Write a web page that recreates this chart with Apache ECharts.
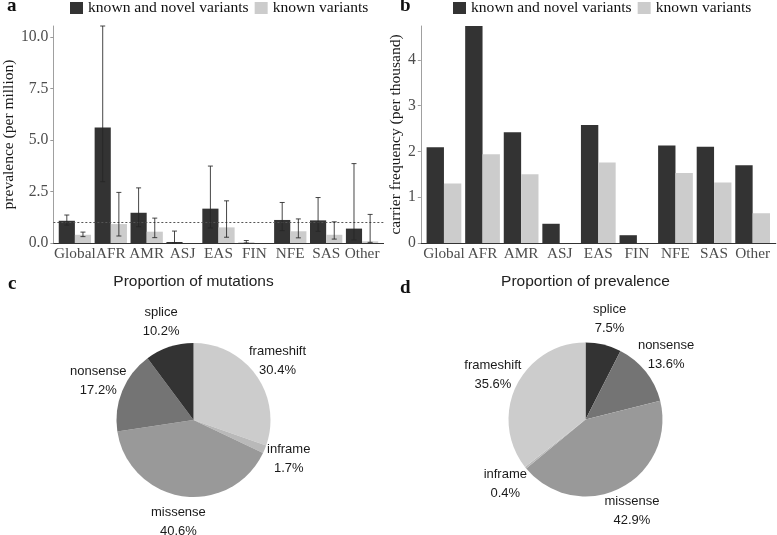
<!DOCTYPE html>
<html><head><meta charset="utf-8">
<script src="https://cdn.jsdelivr.net/npm/echarts@6/dist/echarts.min.js"></script>
<style>html,body{margin:0;padding:0;background:#fff}#c{width:777px;height:535px}</style>
</head><body><div id="c"></div>
<script>
// ---- data ----
const regions = ['Global','AFR','AMR','ASJ','EAS','FIN','NFE','SAS','Other'];
const seriesNames = ['known and novel variants','known variants'];
// panel a: prevalence (per million)
const prevNovel     = [1.08, 5.62, 1.47, 0.05, 1.67, 0.01, 1.12, 1.10, 0.70];
const prevNovelLow  = [0.87, 2.98, 0.79, 0.00, 0.73, 0.00, 0.60, 0.57, 0.15];
const prevNovelHigh = [1.36, 10.55, 2.68, 0.58, 3.74, 0.12, 1.97, 2.21, 3.86];
const prevKnown     = [0.40, 0.92, 0.55, 0.00, 0.76, 0.00, 0.57, 0.40, 0.08];
const prevKnownLow  = [0.31, 0.34, 0.26, null, 0.28, null, 0.25, 0.19, 0.03];
const prevKnownHigh = [0.53, 2.46, 1.21, null, 2.05, null, 1.17, 1.03, 1.39];
const prevRefLine = 1.0;
const prevTicks = [0, 2.5, 5, 7.5, 10];
// panel b: carrier frequency (per thousand)
const carrNovel = [2.09, 4.74, 2.42, 0.42, 2.58, 0.17, 2.13, 2.10, 1.70];
const carrKnown = [1.30, 1.94, 1.50, 0.00, 1.76, 0.00, 1.53, 1.32, 0.65];
const carrTicks = [0, 1, 2, 3, 4];
// panel c: proportion of mutations
const mutNames  = ['frameshift','inframe','missense','nonsense','splice'];
const mutValues = [30.4, 1.7, 40.6, 17.2, 10.2];
// panel d: proportion of prevalence
const prevPropNames  = ['splice','nonsense','missense','inframe','frameshift'];
const prevPropValues = [7.5, 13.6, 42.9, 0.4, 35.6];

// ---- styles ----
const DARK = '#333333', LIGHT = '#cccccc';
const typeColor = {splice:'#333333', nonsense:'#747474', missense:'#999999', inframe:'#b9b9b9', frameshift:'#cccccc'};
const SERIF = 'Liberation Serif';
const SANS = 'Liberation Sans';

function pairs(vals){ return vals.map((v,i)=>[i, v]); }
function errRows(lo, hi){ return lo.map((l,i)=>[i, l, hi[i]]).filter(r=>r[1]!==null); }
function errorBarRender(shift){
  return function(params, api){
    const x = api.value(0) + shift;
    const lo = api.coord([x, api.value(1)]);
    const hi = api.coord([x, api.value(2)]);
    const hw = 2.5;
    const st = {stroke:'#262626', lineWidth:1, opacity:0.85};
    return {type:'group', children:[
      {type:'line', shape:{x1:lo[0],y1:lo[1],x2:hi[0],y2:hi[1]}, style:st},
      {type:'line', shape:{x1:lo[0]-hw,y1:lo[1],x2:lo[0]+hw,y2:lo[1]}, style:st},
      {type:'line', shape:{x1:hi[0]-hw,y1:hi[1],x2:hi[0]+hw,y2:hi[1]}, style:st}
    ]};
  };
}
function xAxisCfg(gridIndex){
  return {
    type:'value', gridIndex, min:-0.6, max:8.6,
    axisLine:{onZero:false, lineStyle:{color:'#333', width:1}},
    axisTick:{show:false}, splitLine:{show:false},
    axisLabel:{customValues:regions.map((_,i)=>i), formatter:v=>regions[Math.round(v)],
      hideOverlap:false, showMinLabel:true, showMaxLabel:true,
      margin:3, fontFamily:SERIF, fontSize:15.3, color:'#4d4d4d'}
  };
}
function yAxisCfg(gridIndex, max, ticks, name, nameGap, fmt){
  return {
    type:'value', gridIndex, min:0, max, name, nameLocation:'middle', nameGap,
    nameTextStyle:{fontFamily:SERIF, fontSize:15.5, color:'#1a1a1a'},
    axisLine:{show:true, onZero:false, lineStyle:{color:'#a0a0a0', width:1}},
    axisTick:{show:true, length:3, customValues:ticks, lineStyle:{color:'#999'}},
    splitLine:{show:false},
    axisLabel:{customValues:ticks, formatter:fmt, margin:5, hideOverlap:false,
      fontFamily:SERIF, fontSize:15.7, color:'#4d4d4d'}
  };
}
function pieSeries(center, names, values){
  const data = names.map((n,i)=>({name:n, value:values[i], itemStyle:{color:typeColor[n]}}));
  return [
    {type:'pie', center, radius:77, startAngle:90, clockwise:true, data,
     itemStyle:{borderWidth:0}, label:{show:false}, labelLine:{show:false}, silent:true, emphasis:{disabled:true}},
    {type:'pie', center, radius:[90,110], startAngle:90, clockwise:true,
     data:names.map((n,i)=>({name:n, value:values[i]})),
     itemStyle:{color:'rgba(0,0,0,0)', borderWidth:0}, silent:true, emphasis:{disabled:true},
     label:{show:true, position:'inside', formatter:p=>p.name+'\n'+p.value.toFixed(1)+'%',
       fontFamily:SANS, fontSize:13, lineHeight:19, color:'#1a1a1a', align:'center'},
     labelLine:{show:false}}
  ];
}

const legendBase = {top:0, padding:0, itemWidth:13, itemHeight:12, itemGap:6, icon:'rect', data:seriesNames,
  textStyle:{fontFamily:SERIF, fontSize:15.6, color:'#111'}, selectedMode:false};

const option = {
  animation:false,
  backgroundColor:'#fff',
  legend:[Object.assign({left:70}, legendBase), Object.assign({left:453}, legendBase)],
  grid:[
    {left:47.6, top:26, width:336, height:217},
    {left:420.8, top:26, width:355, height:217}
  ],
  xAxis:[xAxisCfg(0), xAxisCfg(1)],
  yAxis:[
    yAxisCfg(0, 10.55, prevTicks, 'prevalence (per million)', 32, v=>v.toFixed(1)),
    yAxisCfg(1, 4.74, carrTicks, 'carrier frequency (per thousand)', 13, v=>String(v))
  ],
  graphic:[
    {type:'text', x:7, y:16, style:{text:'a', font:'bold 19px "Liberation Serif"', fill:'#111', verticalAlign:'bottom'}},
    {type:'text', x:400, y:16, style:{text:'b', font:'bold 19px "Liberation Serif"', fill:'#111', verticalAlign:'bottom'}},
    {type:'text', x:8, y:294, style:{text:'c', font:'bold 19px "Liberation Serif"', fill:'#111', verticalAlign:'bottom'}},
    {type:'text', x:400, y:298, style:{text:'d', font:'bold 19px "Liberation Serif"', fill:'#111', verticalAlign:'bottom'}},
    {type:'text', x:193.5, y:282, style:{text:'Proportion of mutations', font:'15.5px "Liberation Sans"', fill:'#222', align:'center', verticalAlign:'middle'}},
    {type:'text', x:585.5, y:282, style:{text:'Proportion of prevalence', font:'15.5px "Liberation Sans"', fill:'#222', align:'center', verticalAlign:'middle'}}
  ],
  series:[
    {type:'bar', name:seriesNames[0], xAxisIndex:0, yAxisIndex:0, data:pairs(prevNovel),
     barWidth:'45%', barGap:'0%', itemStyle:{color:DARK},
     markLine:{silent:true, symbol:'none', label:{show:false},
       lineStyle:{type:[2,2], color:'#555', width:1}, data:[{yAxis:prevRefLine}]}},
    {type:'bar', name:seriesNames[1], xAxisIndex:0, yAxisIndex:0, data:pairs(prevKnown),
     barWidth:'45%', barGap:'0%', itemStyle:{color:LIGHT}},
    {type:'custom', xAxisIndex:0, yAxisIndex:0, z:5, data:errRows(prevNovelLow, prevNovelHigh),
     encode:{x:0, y:[1,2]}, renderItem:errorBarRender(-0.225), silent:true},
    {type:'custom', xAxisIndex:0, yAxisIndex:0, z:5, data:errRows(prevKnownLow, prevKnownHigh),
     encode:{x:0, y:[1,2]}, renderItem:errorBarRender(0.225), silent:true},
    {type:'bar', name:seriesNames[0], xAxisIndex:1, yAxisIndex:1, data:pairs(carrNovel),
     barWidth:'45%', barGap:'0%', itemStyle:{color:DARK}},
    {type:'bar', name:seriesNames[1], xAxisIndex:1, yAxisIndex:1, data:pairs(carrKnown),
     barWidth:'45%', barGap:'0%', itemStyle:{color:LIGHT}},
    ...pieSeries([193.5, 420], mutNames, mutValues),
    ...pieSeries([585.5, 419.5], prevPropNames, prevPropValues)
  ]
};
const chart = echarts.init(document.getElementById('c'), null, {renderer:'canvas'});
chart.setOption(option);
</script>
</body></html>
